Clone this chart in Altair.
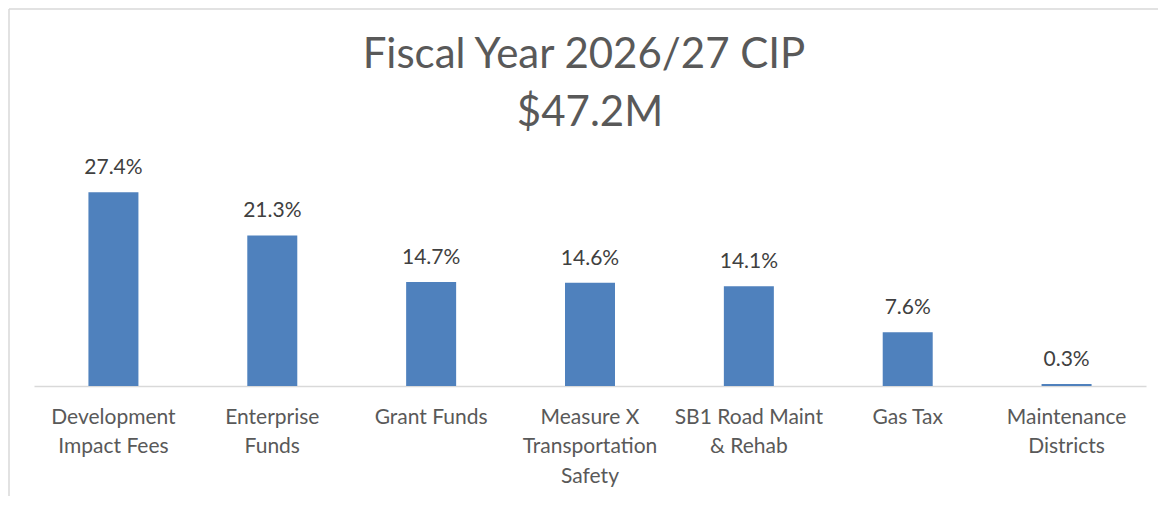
import altair as alt
import pandas as pd

categories = [
    "Development\nImpact Fees",
    "Enterprise\nFunds",
    "Grant Funds",
    "Measure X\nTransportation\nSafety",
    "SB1 Road Maint\n& Rehab",
    "Gas Tax",
    "Maintenance\nDistricts",
]
shares = [27.4, 21.3, 14.7, 14.6, 14.1, 7.6, 0.3]
title_lines = ["Fiscal Year 2026/27 CIP", "$47.2M"]

df = pd.DataFrame({"cat": categories, "share": shares})
df["label"] = df["share"].map(lambda v: f"{v:.1f}%")

FONT = "Lato"

x = alt.X(
    "cat:N",
    sort=categories,
    scale=alt.Scale(paddingInner=0.0, paddingOuter=0.0),
    axis=alt.Axis(
        title=None,
        labelAngle=0,
        labelExpr="split(datum.label, '\\n')",
        labelFont=FONT,
        labelFontSize=21,
        labelColor="#595959",
        labelLineHeight=29.5,
        labelPadding=20,
        ticks=False,
        grid=False,
        domainColor="#d9d9d9",
        domainWidth=1.5,
        labelLimit=300,
    ),
)
y = alt.Y(
    "share:Q",
    scale=alt.Scale(domain=[0, 30], nice=False, zero=True),
    axis=None,
)

base = alt.Chart(df)
bars = base.mark_bar(size=50, color="#4F81BD").encode(x=x, y=y)
labels = base.mark_text(
    font=FONT, fontSize=21, color="#404040", baseline="alphabetic", dy=-18
).encode(x=x, y=y, text="label:N")

one = pd.DataFrame({"a": [0]})
border_left = alt.Chart(one).mark_rule(color="#d9d9d9", strokeWidth=1.5).encode(
    x=alt.value(-25), y=alt.value(-165), y2=alt.value(322)
)
border_top = alt.Chart(one).mark_rule(color="#d9d9d9", strokeWidth=1.5).encode(
    x=alt.value(-25), x2=alt.value(1124), y=alt.value(-165)
)
title1 = alt.Chart(pd.DataFrame({"t": [title_lines[0]]})).mark_text(
    font=FONT, fontSize=42, color="#595959", baseline="alphabetic", align="center"
).encode(x=alt.value(550), y=alt.value(-106), text="t:N")
title2 = alt.Chart(pd.DataFrame({"t": [title_lines[1]]})).mark_text(
    font=FONT, fontSize=42, color="#595959", baseline="alphabetic", align="center"
).encode(x=alt.value(556), y=alt.value(-48), text="t:N")

chart = (
    alt.layer(bars, labels, border_left, border_top, title1, title2)
    .properties(
        width=1112,
        height=212,
        autosize=alt.AutoSizeParams(type="none"),
        padding={"left": 26, "top": 166, "right": 12, "bottom": 110},
    )
    .configure(background="white")
    .configure_view(strokeWidth=0)
)

chart.save("out.html", embed_options={"renderer": "svg", "actions": False})
